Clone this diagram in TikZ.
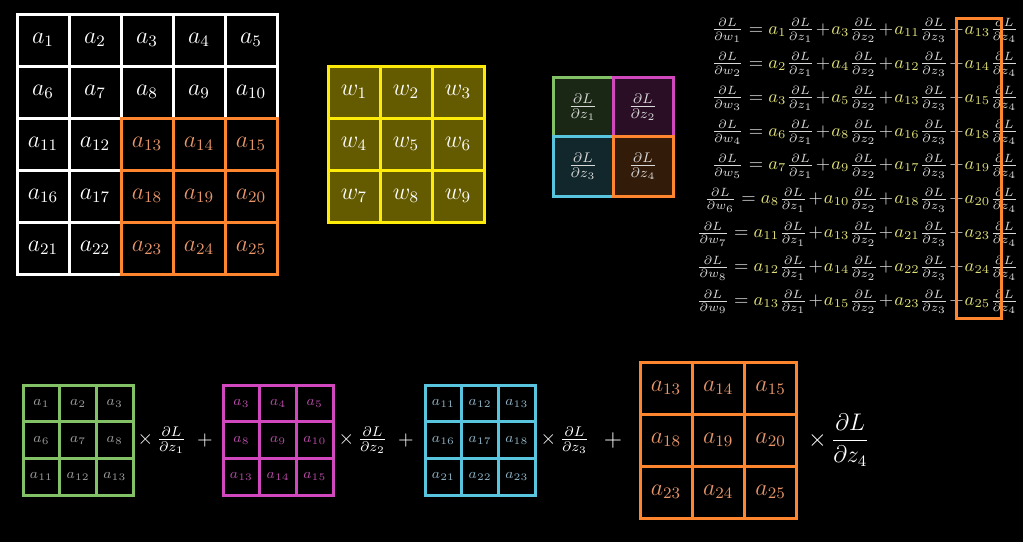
\documentclass[tikz,border=0pt]{standalone}
\usepackage{amsmath}
\definecolor{zgreen}{HTML}{83C167}
\definecolor{zpink}{HTML}{D147BD}
\definecolor{zblue}{HTML}{58C4DD}
\definecolor{zorange}{HTML}{FF862F}
\definecolor{kyellow}{HTML}{FFEB0A}
\definecolor{kolive}{HTML}{645A00}
\definecolor{olabel}{HTML}{E8966A}
\definecolor{ayel}{HTML}{E0E07A}
\definecolor{lgrey}{HTML}{9C9C9C}
\definecolor{lpink}{HTML}{B64AA6}
\definecolor{lblue}{HTML}{8FB2C4}
\newcommand{\ay}[1]{{\color{ayel}a_{#1}}}
\begin{document}
\begin{tikzpicture}[x=0.5pt,y=-0.5pt,
  wcell/.style={draw=white,line width=1.5pt,minimum size=26pt,inner sep=0pt,text=white,font=\large},
  ocell/.style={wcell,draw=zorange,text=olabel},
  kcell/.style={wcell,draw=kyellow,fill=kolive},
  dzcell/.style={draw=#1,fill=#1!20!black,line width=1.5pt,minimum size=30pt,inner sep=0pt,text=white!85!black},
  scell/.style={draw=#1,line width=1.5pt,minimum size=18.33pt,inner sep=0pt,font=\scriptsize},
  eq/.style={anchor=east,inner sep=0pt,text=white!85!black,font=\small},
  op/.style={text=white,inner sep=0pt}]
\fill[black] (0,0) rectangle (1023,542);

\foreach \r in {0,...,4}
\foreach \c in {0,...,4}
{
    \pgfmathtruncatemacro{\n}{5*\r+\c+1}
    \ifnum\r>1 \ifnum\c>1 \def\gs{ocell}\else\def\gs{wcell}\fi\else\def\gs{wcell}\fi
    \node[\gs] (a\n) at (43+52*\c,40+52*\r) {$a_{\n}$};
}

\foreach \r in {0,1,2}
\foreach \c in {0,1,2}
{
    \pgfmathtruncatemacro{\n}{3*\r+\c+1}
    \node[kcell] (w\n) at (354+52*\c,92+52*\r) {$w_{\n}$};
}

\foreach \x/\y/\col/\k in {583/107/zgreen/1,643/107/zpink/2,583/166/zblue/3,643/166/zorange/4}
{
    \node[dzcell=\col] (dz\k) at (\x,\y) {$\frac{\partial L}{\partial z_{\k}}$};
}

\foreach \i/\p/\q/\s/\t in {1/1/3/11/13,2/2/4/12/14,3/3/5/13/15,4/6/8/16/18,5/7/9/17/19,6/8/10/18/20,7/11/13/21/23,8/12/14/22/24,9/13/15/23/25}
{
    \node[eq] (e\i) at (1019,30.7+33.9*\i-33.9) {\medmuskip=1mu$\frac{\partial L}{\partial w_{\i}}=\ay{\p}\frac{\partial L}{\partial z_1}+\ay{\q}\frac{\partial L}{\partial z_2}+\ay{\s}\frac{\partial L}{\partial z_3}+\ay{\t}\frac{\partial L}{\partial z_4}$};
}
\draw[zorange,line width=1.5pt] (956,18) rectangle (1001,318);

\foreach \gx/\off/\col/\lab in {23/1/zgreen/lgrey,223/3/zpink/lpink,425/11/zblue/lblue}
\foreach \r in {0,1,2}
\foreach \c in {0,1,2}
{
    \pgfmathtruncatemacro{\n}{5*\r+\c+\off}
    \node[scell=\col,text=\lab] (g\off n\n) at (\gx+18.33+36.67*\c,403.33+36.67*\r) {$a_{\n}$};
}

\foreach \r in {0,1,2}
\foreach \c in {0,1,2}
{
    \pgfmathtruncatemacro{\n}{5*\r+\c+13}
    \node[ocell] (b\n) at (666+52.3*\c,388+52*\r) {$a_{\n}$};
}

\node[op] (m1) at (162,440) {$\times\,\frac{\partial L}{\partial z_1}$};
\node[op] (m2) at (363,440) {$\times\,\frac{\partial L}{\partial z_2}$};
\node[op] (m3) at (565,440) {$\times\,\frac{\partial L}{\partial z_3}$};
\node[op] (m4) at (839,440) {\large$\times\,\dfrac{\partial L}{\partial z_4}$};
\node[op] (p1) at (205,440) {$+$};
\node[op] (p2) at (406,440) {$+$};
\node[op] (p3) at (613,440) {\large$+$};
\end{tikzpicture}
\end{document}
